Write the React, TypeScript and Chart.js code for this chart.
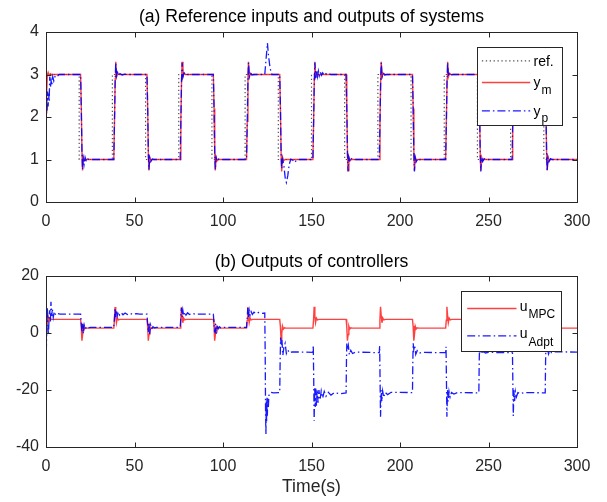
import React, { useEffect, useRef } from 'react';
import { Chart, registerables } from 'chart.js';

Chart.register(...registerables);

type P = [number, number];

// ---------- tick labels ----------
const timeTicks = [0, 50, 100, 150, 200, 250, 300];
const yTicksA = [0, 1, 2, 3, 4];
const yTicksB = [-40, -20, 0, 20];

// ---------- (a) reference & outputs ----------
const refPts: P[] = [
  [0, 3], [18.75, 3], [18.75, 1], [37.5, 1], [37.5, 3], [56.25, 3], [56.25, 1], [75, 1], [75, 3],
  [93.75, 3], [93.75, 1], [112.5, 1], [112.5, 3], [131.25, 3], [131.25, 1], [150, 1], [150, 3],
  [168.75, 3], [168.75, 1], [187.5, 1], [187.5, 3], [206.25, 3], [206.25, 1], [225, 1], [225, 3],
  [243.75, 3], [243.75, 1], [262.5, 1], [262.5, 3], [281.25, 3], [281.25, 1], [300, 1],
];

const ymPts: P[] = [
  [0, 2.1], [0.4, 2.6], [0.8, 3.0], [1.2, 3.05], [1.8, 2.98], [2.5, 3.02], [3.2, 3.0],
  [19.55, 3], [19.95, 2.2], [20.35, 1.1], [20.65, 0.74], [21.15, 1.05], [21.75, 0.97], [22.55, 1],
  [38.3, 1], [38.7, 1.9], [39.1, 2.9], [39.4, 3.3], [39.9, 2.95], [40.5, 3.03], [41.3, 3],
  [57.05, 3], [57.45, 2.2], [57.85, 1.1], [58.15, 0.74], [58.65, 1.05], [59.25, 0.97], [60.05, 1],
  [75.8, 1], [76.2, 1.9], [76.6, 2.9], [76.9, 3.3], [77.4, 2.95], [78, 3.03], [78.8, 3],
  [94.55, 3], [94.95, 2.2], [95.35, 1.1], [95.65, 0.74], [96.15, 1.05], [96.75, 0.97], [97.55, 1],
  [113.3, 1], [113.7, 1.9], [114.1, 2.9], [114.4, 3.3], [114.9, 2.95], [115.5, 3.03], [116.3, 3],
  [132.05, 3], [132.45, 2.2], [132.85, 1.1], [133.15, 0.72], [133.65, 1.05], [134.25, 0.97], [135.05, 1],
  [150.8, 1], [151.2, 1.9], [151.6, 2.9], [151.9, 3.3], [152.4, 2.95], [153, 3.03], [153.8, 3],
  [169.55, 3], [169.95, 2.2], [170.35, 1.1], [170.65, 0.74], [171.15, 1.05], [171.75, 0.97], [172.55, 1],
  [188.3, 1], [188.7, 1.9], [189.1, 2.9], [189.4, 3.3], [189.9, 2.95], [190.5, 3.03], [191.3, 3],
  [207.05, 3], [207.45, 2.2], [207.85, 1.1], [208.15, 0.74], [208.65, 1.05], [209.25, 0.97], [210.05, 1],
  [225.8, 1], [226.2, 1.9], [226.6, 2.9], [226.9, 3.3], [227.4, 2.95], [228, 3.03], [228.8, 3],
  [244.55, 3], [244.95, 2.2], [245.35, 1.1], [245.65, 0.74], [246.15, 1.05], [246.75, 0.97], [247.55, 1],
  [263.3, 1], [263.7, 1.9], [264.1, 2.9], [264.4, 3.3], [264.9, 2.95], [265.5, 3.03], [266.3, 3],
  [282.05, 3], [282.45, 2.2], [282.85, 1.1], [283.15, 0.74], [283.65, 1.05], [284.25, 0.97], [285.05, 1],
  [300, 1],
];

const ypPts: P[] = [
  [0, 2.0], [0.3, 2.45], [0.6, 2.15], [0.9, 2.6], [1.2, 2.25], [1.5, 2.55], [1.8, 2.35], [2.1, 2.95],
  [2.5, 2.7], [2.9, 2.85], [3.3, 2.75], [3.8, 2.95], [4.4, 2.85], [5.2, 2.97], [6.2, 2.95], [7.5, 3.0],
  [19.55, 3], [19.95, 2.2], [20.35, 1.1], [20.65, 0.76], [21.0, 1.02], [21.5, 0.88], [22.1, 1.05], [22.8, 0.95], [23.6, 1.01], [24.5, 1],
  [38.3, 1], [38.7, 1.9], [39.1, 2.9], [39.4, 3.28], [39.9, 2.97], [40.4, 3.05], [41, 2.98], [41.8, 3.02], [43, 2.99], [44.5, 3.01], [46, 3],
  [57.05, 3], [57.45, 2.2], [57.85, 1.1], [58.15, 0.76], [58.6, 1.04], [59.2, 0.95], [60, 1.01], [61, 1],
  [75.8, 1], [76.2, 1.9], [76.6, 2.9], [76.9, 3.28], [77.4, 2.95], [78, 3.04], [78.8, 2.99], [80, 3],
  [94.55, 3], [94.95, 2.2], [95.35, 1.1], [95.65, 0.76], [96.1, 1.05], [96.7, 0.96], [97.5, 1.01], [98.5, 1],
  [113.3, 1], [113.7, 1.9], [114.1, 2.9], [114.4, 3.28], [114.9, 2.95], [115.5, 3.04], [116.3, 2.99], [117.5, 3],
  [123.6, 3.0], [124.3, 3.35], [125.1, 3.74], [125.7, 3.45], [126.6, 3.15], [127.6, 3.0],
  [132.05, 3], [132.45, 2.2], [132.85, 1.1], [133.15, 0.78], [133.7, 1.0], [134.4, 0.85], [135.2, 0.55], [135.8, 0.46],
  [136.6, 0.62], [137.4, 0.88], [138.3, 1.01], [139.3, 0.99], [140.4, 0.93], [141.5, 0.98], [142.6, 1.0],
  [150.8, 1], [151.2, 1.9], [151.6, 2.9], [151.9, 3.28], [152.4, 2.92], [152.9, 3.1], [153.4, 2.95], [153.9, 3.08],
  [154.4, 2.97], [155, 3.06], [155.6, 2.98], [156.3, 3.04], [157, 2.99], [157.8, 3.03], [158.7, 3.0], [159.8, 3.02], [161, 3],
  [169.55, 3], [169.95, 2.2], [170.35, 1.1], [170.65, 0.72], [171.1, 1.05], [171.7, 0.95], [172.5, 1.02], [173.5, 1],
  [188.3, 1], [188.7, 1.9], [189.1, 2.9], [189.4, 3.28], [189.9, 2.95], [190.5, 3.04], [191.3, 2.99], [192.5, 3],
  [207.05, 3], [207.45, 2.2], [207.85, 1.1], [208.15, 0.72], [208.6, 1.05], [209.2, 0.95], [210, 1.02], [211, 1],
  [225.8, 1], [226.2, 1.9], [226.6, 2.9], [226.9, 3.28], [227.4, 2.95], [228, 3.04], [228.8, 2.99], [230, 3],
  [244.55, 3], [244.95, 2.2], [245.35, 1.1], [245.65, 0.72], [246.1, 1.05], [246.7, 0.95], [247.5, 1.02], [248.5, 1],
  [263.3, 1], [263.7, 1.9], [264.1, 2.9], [264.4, 3.28], [264.9, 2.95], [265.5, 3.04], [266.3, 2.99], [267.5, 3],
  [282.05, 3], [282.45, 2.2], [282.85, 1.1], [283.15, 0.72], [283.6, 1.05], [284.2, 0.95], [285, 1.02], [286, 1],
  [300, 1],
];

// ---------- (b) controller outputs ----------
const uMpcPts: P[] = [
  [0, 4.4], [0.4, 6.2], [0.8, 3.8], [1.3, 5.5], [1.8, 4.3], [2.4, 5.0], [3.2, 4.8],
  [19.55, 4.8], [19.9, 2.5], [20.3, -2.7], [20.7, -0.5], [21.1, 2.4], [21.6, 1.4], [22.2, 1.85], [23, 1.7],
  [38.3, 1.7], [38.65, 4.5], [39, 9.1], [39.4, 6.0], [39.8, 3.6], [40.3, 5.2], [40.9, 4.6], [41.7, 4.8],
  [57.05, 4.8], [57.4, 2.5], [57.8, -2.7], [58.2, -0.5], [58.6, 2.4], [59.1, 1.4], [59.7, 1.85], [60.5, 1.7],
  [75.8, 1.7], [76.15, 4.5], [76.5, 9.1], [76.9, 6.0], [77.3, 3.6], [77.8, 5.2], [78.4, 4.6], [79.2, 4.8],
  [94.55, 4.8], [94.9, 2.5], [95.3, -2.7], [95.7, -0.5], [96.1, 2.4], [96.6, 1.4], [97.2, 1.85], [98, 1.7],
  [113.3, 1.7], [113.65, 4.5], [114, 9.1], [114.4, 6.0], [114.8, 3.6], [115.3, 5.2], [115.9, 4.6], [116.7, 4.8],
  [132.05, 4.8], [132.4, 2.5], [132.8, -2.3], [133.2, -0.3], [133.6, 2.4], [134.1, 1.4], [134.7, 1.85], [135.5, 1.7],
  [150.8, 1.7], [151.15, 4.5], [151.5, 9.2], [151.9, 6.0], [152.3, 3.6], [152.8, 5.2], [153.4, 4.6], [154.2, 4.8],
  [169.55, 4.8], [169.9, 2.5], [170.3, -2.7], [170.7, -0.5], [171.1, 2.4], [171.6, 1.4], [172.2, 1.85], [173, 1.7],
  [188.3, 1.7], [188.65, 4.5], [189, 9.2], [189.4, 6.0], [189.8, 3.6], [190.3, 5.2], [190.9, 4.6], [191.7, 4.8],
  [207.05, 4.8], [207.4, 2.5], [207.8, -2.7], [208.2, -0.5], [208.6, 2.4], [209.1, 1.4], [209.7, 1.85], [210.5, 1.7],
  [225.8, 1.7], [226.15, 4.5], [226.5, 9.2], [226.9, 6.0], [227.3, 3.6], [227.8, 5.2], [228.4, 4.6], [229.2, 4.8],
  [244.55, 4.8], [244.9, 2.5], [245.3, -2.7], [245.7, -0.5], [246.1, 2.4], [246.6, 1.4], [247.2, 1.85], [248, 1.7],
  [263.3, 1.7], [263.65, 4.5], [264, 9.2], [264.4, 6.0], [264.8, 3.6], [265.3, 5.2], [265.9, 4.6], [266.7, 4.8],
  [282.05, 4.8], [282.4, 2.5], [282.8, -2.7], [283.2, -0.5], [283.6, 2.4], [284.1, 1.4], [284.7, 1.85], [285.5, 1.7],
  [300, 1.7],
];

const uAdptPts: P[] = [
  [0, -12], [0.25, -4], [0.5, 6], [0.8, 9], [1.1, 2], [1.4, -0.7], [1.7, 5], [2.1, 8], [2.5, 4], [2.8, 11],
  [3.2, 6], [3.6, 8.5], [4.1, 5.5], [4.7, 7.5], [5.5, 6.3], [6.5, 6.8], [8, 6.6],
  [19.55, 6.6], [19.9, 3.5], [20.3, 0.2], [20.7, 3.2], [21.1, -0.3], [21.6, 2.8], [22.2, 1.4], [22.9, 2.2], [23.8, 1.8], [25, 2.0],
  [38.3, 2.0], [38.65, 5], [39, 8.8], [39.4, 5.6], [39.8, 8.0], [40.3, 6.0], [40.9, 7.4], [41.6, 6.3], [42.5, 7.1],
  [43.5, 6.4], [44.7, 7.0], [46, 6.5], [47.5, 6.9], [49, 6.5], [51, 6.8], [53, 6.6],
  [57.05, 6.6], [57.4, 3.5], [57.8, 0.2], [58.2, 3.2], [58.6, -0.3], [59.1, 2.8], [59.7, 1.4], [60.4, 2.2], [61.3, 1.8], [62.5, 2.0],
  [75.8, 2.0], [76.15, 5], [76.5, 8.8], [76.9, 5.6], [77.3, 8.0], [77.8, 6.0], [78.4, 7.4], [79.1, 6.3], [80, 7.1],
  [81, 6.5], [82.5, 6.9], [84.5, 6.6],
  [94.55, 6.6], [94.9, 3.5], [95.3, 0.2], [95.7, 3.2], [96.1, -0.3], [96.6, 2.8], [97.2, 1.4], [97.9, 2.2], [98.8, 1.8], [100, 2.0],
  [113.3, 2.0], [113.65, 5], [114, 8.8], [114.4, 5.6], [114.8, 8.0], [115.3, 6.2], [115.9, 7.5], [116.6, 6.5],
  [117.5, 7.3], [118.5, 6.8], [120, 7.2], [122, 6.9], [123.6, 7.0],
  [123.85, -8], [124.05, -28], [124.25, -35.5], [124.45, -24], [124.65, -31], [124.85, -22.5], [125.05, -29],
  [125.3, -23], [125.6, -26.5], [125.9, -22], [126.3, -21.5], [127, -20.8], [128.5, -21], [132.05, -20.9],
  [132.3, -9], [132.55, -1.6], [132.9, -4.5], [133.3, -2.5], [133.8, -7.8], [134.4, -5], [135.1, -3.6], [135.8, -7.2],
  [136.6, -6], [137.6, -7], [139, -6.6], [150.8, -6.8],
  [151.0, -4.3], [151.25, -16], [151.5, -30.8], [151.8, -19], [152.1, -26], [152.4, -19.5], [152.8, -25.5], [153.2, -19.8],
  [153.7, -24.5], [154.2, -20], [154.8, -23.5], [155.5, -20.3], [156.3, -22.8], [157.2, -20.5], [158.2, -22.2],
  [159.5, -20.8], [161, -21.8], [163, -20.9], [166, -21.3], [169.55, -21],
  [169.75, -10], [169.95, -3.6], [170.3, -5.8], [170.8, -4.3], [171.4, -7.6], [172.2, -6.1], [173.2, -7.2], [175, -6.7], [188.3, -6.9],
  [188.5, -4.6], [188.75, -17], [189.0, -29.4], [189.35, -20], [189.75, -24], [190.2, -20.4], [190.8, -22.6], [191.6, -20.8],
  [193, -21.6], [195, -20.8], [207.05, -20.9],
  [207.25, -10], [207.45, -3.6], [207.8, -5.8], [208.3, -4.5], [208.9, -7.5], [209.7, -6.2], [210.7, -7.1], [212.5, -6.8], [225.8, -6.9],
  [226, -4.8], [226.25, -17], [226.5, -29.4], [226.85, -20], [227.25, -24], [227.7, -20.5], [228.3, -22.5], [229.1, -20.9],
  [230.5, -21.4], [232.5, -20.9], [244.55, -21],
  [244.75, -10], [244.95, -4.6], [245.3, -6.2], [245.8, -5], [246.4, -7.4], [247.2, -6.3], [248.2, -7], [250, -6.8], [263.3, -6.9],
  [263.5, -5], [263.75, -17], [264, -29.1], [264.35, -20], [264.75, -23.8], [265.2, -20.5], [265.8, -22.4], [266.6, -20.9],
  [268, -21.3], [270, -20.9], [282.05, -21],
  [282.25, -10], [282.45, -4], [282.8, -5.9], [283.3, -4.8], [283.9, -7.4], [284.7, -6.2], [285.7, -6.9], [287.5, -6.6], [300, -6.7],
];

// ---------- styling ----------
const FONT = '"Liberation Sans", Arial, Helvetica, sans-serif';
const AXIS = '#262626';
const TICK_LEN = 5;
const RED = 'rgba(255,0,0,0.75)';
const BLUE = 'rgba(0,0,255,0.9)';
const DASHDOT = [8, 3, 1.5, 3];

const toXY = (p: P[]) => p.map(([x, y]) => ({ x, y }));

const framePlugin = {
  id: 'frame',
  afterDraw(chart: any, _args: any, opts: any) {
    const { ctx, chartArea: a } = chart;
    const xs = chart.scales.x;
    const ys = chart.scales.y;
    ctx.save();
    ctx.strokeStyle = AXIS;
    ctx.lineWidth = 1;
    ctx.setLineDash([]);
    const L = Math.round(a.left) + 0.5;
    const R = Math.round(a.right) + 0.5;
    const T = Math.round(a.top) + 0.5;
    const B = Math.round(a.bottom) + 0.5;
    ctx.beginPath();
    for (const t of xs.ticks) {
      const p = Math.round(xs.getPixelForValue(t.value)) + 0.5;
      ctx.moveTo(p, B); ctx.lineTo(p, B - TICK_LEN);
      ctx.moveTo(p, T); ctx.lineTo(p, T + TICK_LEN);
    }
    for (const t of ys.ticks) {
      const p = Math.round(ys.getPixelForValue(t.value)) + 0.5;
      ctx.moveTo(L, p); ctx.lineTo(L + TICK_LEN, p);
      ctx.moveTo(R, p); ctx.lineTo(R - TICK_LEN, p);
    }
    ctx.stroke();
    ctx.strokeRect(L, T, R - L, B - T);

    const lg = opts.legend;
    if (lg) {
      const bx = Math.round(a.right - lg.right - lg.w) + 0.5;
      const by = Math.round(a.top + lg.top) + 0.5;
      ctx.fillStyle = '#ffffff';
      ctx.fillRect(bx, by, lg.w, lg.h);
      ctx.strokeStyle = AXIS;
      ctx.lineWidth = 1;
      ctx.strokeRect(bx, by, lg.w, lg.h);
      for (const it of lg.items) {
        const ds = chart.data.datasets[it.ds];
        ctx.save();
        ctx.strokeStyle = ds.borderColor;
        ctx.lineWidth = ds.borderWidth;
        ctx.setLineDash(ds.borderDash || []);
        ctx.beginPath();
        ctx.moveTo(bx + lg.x0, by + it.y);
        ctx.lineTo(bx + lg.x1, by + it.y);
        ctx.stroke();
        ctx.restore();
        ctx.fillStyle = '#000000';
        ctx.textBaseline = 'alphabetic';
        ctx.textAlign = 'left';
        ctx.font = `14px ${FONT}`;
        const base = by + it.y + lg.base;
        ctx.fillText(it.main, bx + lg.tx, base);
        if (it.sub) {
          const w = ctx.measureText(it.main).width;
          ctx.font = `12px ${FONT}`;
          ctx.fillText(it.sub, bx + lg.tx + w + 1, base + lg.subDrop);
        }
      }
    }
    ctx.restore();
  },
};

function axisX(withTitle: boolean, height: number, pad: number) {
  return {
    type: 'linear',
    min: 0,
    max: 300,
    afterBuildTicks: (s: any) => { s.ticks = timeTicks.map((v) => ({ value: v })); },
    afterFit: (s: any) => { s.height = height; },
    grid: { display: false, drawTicks: false },
    border: { display: false },
    ticks: { font: { family: FONT, size: 16 }, color: AXIS, padding: pad, maxRotation: 0, autoSkip: false },
    title: {
      display: withTitle,
      text: 'Time(s)',
      font: { family: FONT, size: 17.6 },
      color: AXIS,
      padding: { top: 0, bottom: 4.5 },
    },
  };
}

function axisY(min: number, max: number, ticks: number[]) {
  return {
    type: 'linear',
    min,
    max,
    afterBuildTicks: (s: any) => { s.ticks = ticks.map((v) => ({ value: v })); },
    afterFit: (s: any) => { s.width = 46; },
    grid: { display: false, drawTicks: false },
    border: { display: false },
    ticks: { font: { family: FONT, size: 16 }, color: AXIS, padding: 7, autoSkip: false },
  };
}

function useChart(ref: React.RefObject<HTMLCanvasElement | null>, build: () => any) {
  useEffect(() => {
    if (!ref.current) return;
    const chart = new Chart(ref.current, build());
    return () => chart.destroy();
  }, []);
}

export default function App() {
  const topRef = useRef<HTMLCanvasElement | null>(null);
  const botRef = useRef<HTMLCanvasElement | null>(null);

  useChart(topRef, () => ({
    type: 'line',
    data: {
      datasets: [
        { label: 'ref.', data: toXY(refPts), borderColor: 'rgba(50,50,50,0.85)', borderWidth: 1.2, borderDash: [1.3, 2.6], order: 2 },
        { label: 'y_m', data: toXY(ymPts), borderColor: RED, borderWidth: 1.4, order: 1 },
        { label: 'y_p', data: toXY(ypPts), borderColor: BLUE, borderWidth: 1.3, borderDash: DASHDOT, order: 0 },
      ],
    },
    options: {
      responsive: false,
      animation: false,
      events: [],
      layout: { padding: { left: 0, right: 30, top: 0, bottom: 0 } },
      elements: { point: { radius: 0 }, line: { tension: 0, fill: false } },
      plugins: {
        legend: { display: false },
        tooltip: { enabled: false },
        title: {
          display: true,
          fullSize: false,
          text: '(a) Reference inputs and outputs of systems',
          color: '#000000',
          font: { family: FONT, size: 17.6, weight: 'normal' },
          padding: { top: 6.5, bottom: 4.4 },
        },
        frame: {
          legend: {
            right: 14.7, top: 15.3, w: 85, h: 78, x0: 4.4, x1: 52.7, tx: 56, base: 4.8, subDrop: 6.5,
            items: [
              { ds: 0, y: 13.4, main: 'ref.' },
              { ds: 1, y: 35, main: 'y', sub: 'm' },
              { ds: 2, y: 63.4, main: 'y', sub: 'p' },
            ],
          },
        },
      },
      scales: { x: axisX(false, 38, 10), y: axisY(0, 4, yTicksA) },
    },
    plugins: [framePlugin],
  }));

  useChart(botRef, () => ({
    type: 'line',
    data: {
      datasets: [
        { label: 'u_MPC', data: toXY(uMpcPts), borderColor: RED, borderWidth: 1.4, order: 1 },
        { label: 'u_Adpt', data: toXY(uAdptPts), borderColor: BLUE, borderWidth: 1.3, borderDash: DASHDOT, order: 0 },
      ],
    },
    options: {
      responsive: false,
      animation: false,
      events: [],
      layout: { padding: { left: 0, right: 30, top: 0, bottom: 0 } },
      elements: { point: { radius: 0 }, line: { tension: 0, fill: false } },
      plugins: {
        legend: { display: false },
        tooltip: { enabled: false },
        title: {
          display: true,
          fullSize: false,
          text: '(b) Outputs of controllers',
          color: '#000000',
          font: { family: FONT, size: 17.6, weight: 'normal' },
          padding: { top: 12, bottom: 2.9 },
        },
        frame: {
          legend: {
            right: 16, top: 14.7, w: 100, h: 60, x0: 5.7, x1: 55, tx: 58.3, base: 2.6, subDrop: 7.2,
            items: [
              { ds: 0, y: 17, main: 'u', sub: 'MPC' },
              { ds: 1, y: 44.3, main: 'u', sub: 'Adpt' },
            ],
          },
        },
      },
      scales: { x: axisX(true, 55, 10), y: axisY(-40, 20, yTicksB) },
    },
    plugins: [framePlugin],
  }));

  return (
    <div style={{ position: 'absolute', left: 0, top: 0, width: 607, height: 502, background: '#fff' }}>
      <canvas ref={topRef} width={607} height={240} style={{ display: 'block', width: 607, height: 240 }} />
      <canvas ref={botRef} width={607} height={262} style={{ display: 'block', width: 607, height: 262 }} />
    </div>
  );
}
